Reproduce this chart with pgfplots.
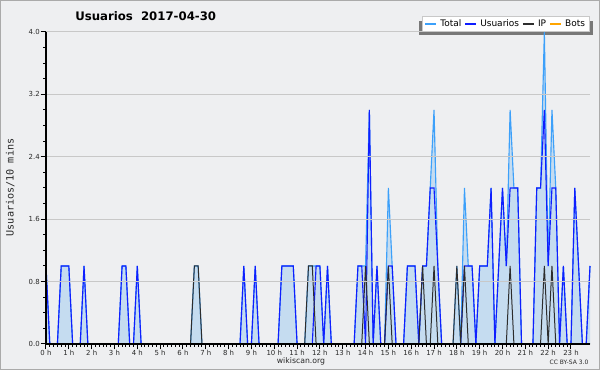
\documentclass[border=0pt]{standalone}
\usepackage{pgfplots}
\pgfplotsset{compat=1.18}
\usepackage{pgfplotstable}
\usepackage{fontspec}
\setmainfont{DejaVu Sans}
\newfontfamily\monof{DejaVu Sans Mono}
\definecolor{bgc}{RGB}{238,239,241}
\definecolor{framec}{RGB}{170,170,170}
\definecolor{gridc}{RGB}{200,200,200}
\definecolor{totc}{RGB}{60,160,250}
\definecolor{fillc}{RGB}{197,220,240}
\definecolor{usec}{RGB}{15,30,255}
\definecolor{ipc}{RGB}{45,45,45}
\definecolor{botc}{RGB}{255,165,0}
\definecolor{txtc}{RGB}{40,40,40}
\definecolor{shadc}{RGB}{120,120,120}

\pgfplotstableread[row sep=\\]{
x T U I\\
0 1 1 0\\ 1 0 0 0\\ 2 0 0 0\\ 3 0 0 0\\ 4 1 1 0\\ 5 1 1 0\\ 6 1 1 0\\ 7 0 0 0\\
8 0 0 0\\ 9 0 0 0\\ 10 1 1 0\\ 11 0 0 0\\ 12 0 0 0\\ 13 0 0 0\\ 14 0 0 0\\ 15 0 0 0\\
16 0 0 0\\ 17 0 0 0\\ 18 0 0 0\\ 19 0 0 0\\ 20 1 1 0\\ 21 1 1 0\\ 22 0 0 0\\ 23 0 0 0\\
24 1 1 0\\ 25 0 0 0\\ 26 0 0 0\\ 27 0 0 0\\ 28 0 0 0\\ 29 0 0 0\\ 30 0 0 0\\ 31 0 0 0\\
32 0 0 0\\ 33 0 0 0\\ 34 0 0 0\\ 35 0 0 0\\ 36 0 0 0\\ 37 0 0 0\\ 38 0 0 0\\ 39 1 0 1\\
40 1 0 1\\ 41 0 0 0\\ 42 0 0 0\\ 43 0 0 0\\ 44 0 0 0\\ 45 0 0 0\\ 46 0 0 0\\ 47 0 0 0\\
48 0 0 0\\ 49 0 0 0\\ 50 0 0 0\\ 51 0 0 0\\ 52 1 1 0\\ 53 0 0 0\\ 54 0 0 0\\ 55 1 1 0\\
56 0 0 0\\ 57 0 0 0\\ 58 0 0 0\\ 59 0 0 0\\ 60 0 0 0\\ 61 0 0 0\\ 62 1 1 0\\ 63 1 1 0\\
64 1 1 0\\ 65 1 1 0\\ 66 0 0 0\\ 67 0 0 0\\ 68 0 0 0\\ 69 1 0 1\\ 70 1 0 1\\ 71 1 1 0\\
72 1 1 0\\ 73 0 0 0\\ 74 1 1 0\\ 75 0 0 0\\ 76 0 0 0\\ 77 0 0 0\\ 78 0 0 0\\ 79 0 0 0\\
80 0 0 0\\ 81 0 0 0\\ 82 1 1 0\\ 83 1 1 0\\ 84 1 0 1\\ 85 3 3 0\\ 86 0 0 0\\ 87 1 1 0\\
88 0 0 0\\ 89 0 0 0\\ 90 2 1 1\\ 91 1 1 0\\ 92 0 0 0\\ 93 0 0 0\\ 94 0 0 0\\ 95 1 1 0\\
96 1 1 0\\ 97 1 1 0\\ 98 0 0 0\\ 99 1 1 1\\ 100 1 1 0\\ 101 2 2 0\\ 102 3 2 1\\ 103 1 1 0\\
104 0 0 0\\ 105 0 0 0\\ 106 0 0 0\\ 107 0 0 0\\ 108 1 0 1\\ 109 0 0 0\\ 110 2 1 1\\ 111 1 1 0\\
112 1 1 0\\ 113 0 0 0\\ 114 1 1 0\\ 115 1 1 0\\ 116 1 1 0\\ 117 2 2 0\\ 118 0 0 0\\ 119 1 1 0\\
120 2 2 0\\ 121 1 1 0\\ 122 3 2 1\\ 123 2 2 0\\ 124 2 2 0\\ 125 0 0 0\\ 126 0 0 0\\ 127 0 0 0\\
128 0 0 0\\ 129 2 2 0\\ 130 2 2 0\\ 131 4 3 1\\ 132 1 1 0\\ 133 3 2 1\\ 134 2 2 0\\ 135 0 0 0\\
136 1 1 0\\ 137 0 0 0\\ 138 0 0 0\\ 139 2 2 0\\ 140 1 1 0\\ 141 0 0 0\\ 142 0 0 0\\ 143 1 1 0\\
}\data

\begin{document}
\begin{tikzpicture}[x=0.75pt,y=0.75pt]
\useasboundingbox (0,0) rectangle (600,370);
\fill[bgc] (0,0) rectangle (600,370);
\draw[framec, line width=0.75pt] (0.5,0.5) rectangle (599.5,369.5);
\fill[shadc] (418.7,335) rectangle (593.3,349.3);
\begin{axis}[
  at={(34.5pt,19.5pt)}, anchor=south west,
  scale only axis, width=408pt, height=234pt,
  xmin=0, xmax=143, ymin=0, ymax=4,
  clip=false, axis on top,
  axis x line*=bottom, axis y line*=left,
  axis line style={black, line width=1.1pt, -},
  xtick={0,6,...,138},
  xticklabels={0 h,1 h,2 h,3 h,4 h,5 h,6 h,7 h,8 h,9 h,10 h,11 h,12 h,13 h,14 h,15 h,16 h,17 h,18 h,19 h,20 h,21 h,22 h,23 h},
  minor x tick num=5,
  ytick={0,0.8,1.6,2.4,3.2,4.0},
  minor y tick num=3,
  tick align=outside,
  major tick length=4pt, minor tick length=2.1pt,
  tick style={black, line width=0.75pt},
  ymajorgrids, major grid style={gridc, line width=0.75pt},
  /pgf/number format/assume math mode=true,
  yticklabel style={/pgf/number format/fixed, /pgf/number format/fixed zerofill, /pgf/number format/precision=1},
  ticklabel style={font=\fontsize{5.2}{6}\selectfont, text=txtc},
  xticklabel style={inner sep=0.6pt},
  yticklabel style={inner sep=0.5pt},
  legend columns=4,
  legend style={at={(rel axis cs:1,1)}, anchor=south east,
    fill=white, draw=gridc, line width=0.5pt,
    font=\fontsize{6.75}{8}\selectfont,
    inner xsep=1.5pt, inner ysep=0.6pt,
    /tikz/every odd column/.append style={column sep=0.8pt},
    /tikz/every even column/.append style={column sep=0.2pt}},
]
\addplot[fill=fillc, draw=none, forget plot] table[x=x,y=T]{\data} \closedcycle;
\addplot[color=totc, line width=0.85pt,
  legend image code/.code={\draw[draw=totc, line width=1.2pt] (0pt,0pt) -- (8pt,0pt);}] table[x=x,y=T]{\data};
\addlegendentry{Total}
\addplot[color=usec, line width=0.85pt,
  legend image code/.code={\draw[draw=usec, line width=1.2pt] (0pt,0pt) -- (8pt,0pt);}] table[x=x,y=U]{\data};
\addlegendentry{Usuarios}
\addplot[color=ipc, line width=0.75pt,
  legend image code/.code={\draw[draw=ipc, line width=1.2pt] (0pt,0pt) -- (8pt,0pt);}] table[x=x,y=I]{\data};
\addlegendentry{IP}
\addlegendimage{legend image code/.code={\draw[draw=botc, line width=1.2pt] (0pt,0pt) -- (8pt,0pt);}}
\addlegendentry{Bots}
\end{axis}
\node[anchor=base west, inner sep=0pt, font=\bfseries\fontsize{8.8}{10}\selectfont] at (75,349) {Usuarios\ \ 2017-04-30};
\node[rotate=90, font=\monof\fontsize{7.6}{8}\selectfont, text=txtc] at (10.3,182.5) {Usuarios/10 mins};
\node[font=\fontsize{5.8}{7}\selectfont, text=txtc] at (301,9) {wikiscan.org};
\node[font=\fontsize{4.5}{5}\selectfont, text=txtc] at (569,8) {CC BY-SA 3.0};
\end{tikzpicture}
\end{document}
